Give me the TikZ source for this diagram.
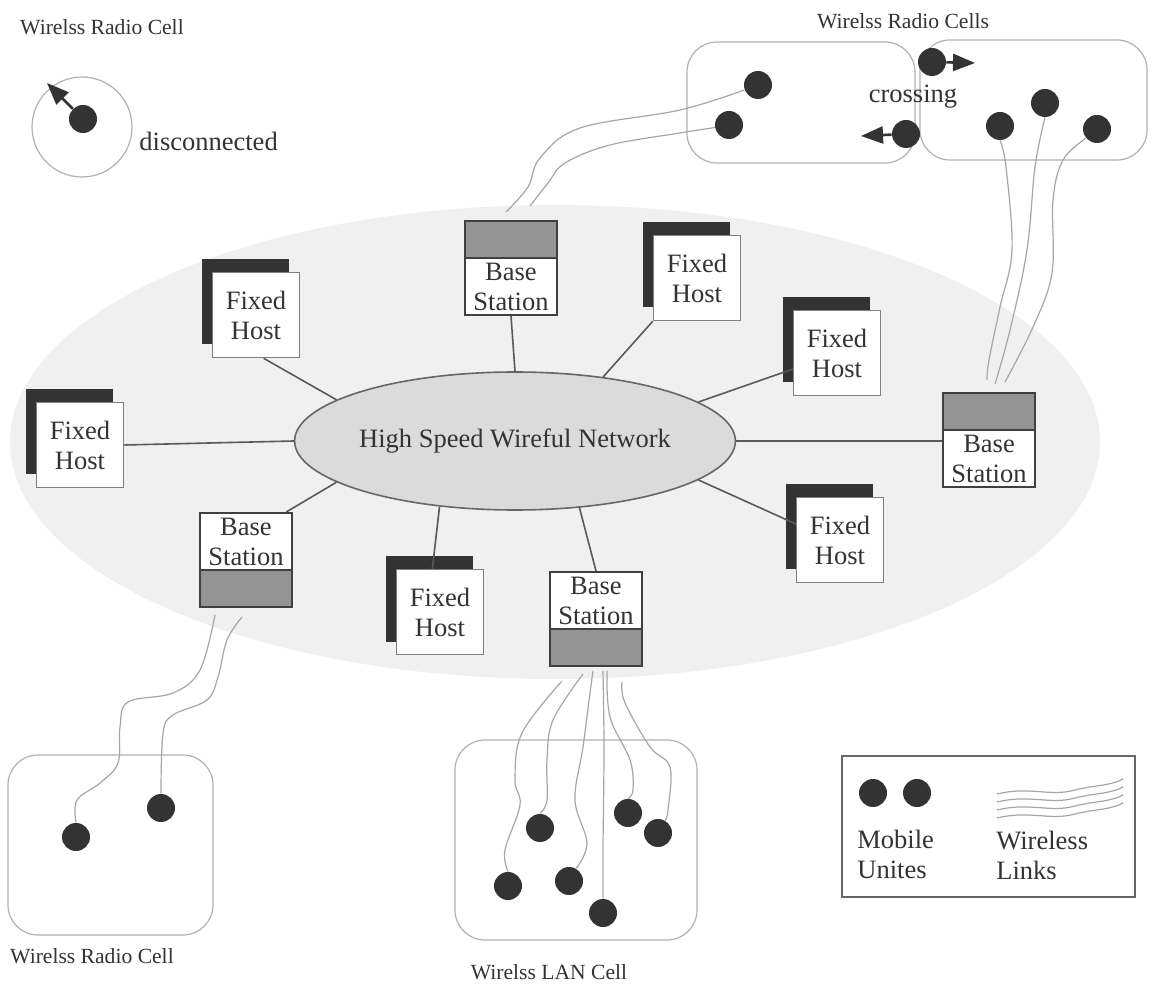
\documentclass[tikz,border=0pt]{standalone}
\usepackage{fontspec}
\setmainfont{Liberation Serif}
\usetikzlibrary{shapes.geometric,shadows,arrows.meta}
\newcommand{\mainfs}{\fontsize{13.25}{15}\selectfont}
\newcommand{\smallfs}{\fontsize{10.8}{12}\selectfont}
\begin{document}
\begin{tikzpicture}[x=0.5pt,y=-0.5pt,
 txt/.style={font=\mainfs, text=black!80, inner sep=0pt, align=center},
 celllabel/.style={font=\smallfs, text=black!80, inner sep=0pt},
 fhbox/.style={draw=black!50, line width=0.8pt, fill=white, minimum width=43.5pt, minimum height=42.5pt, inner sep=0pt, align=center, font=\mainfs, text=black!80,
   drop shadow={shadow xshift=-5.5pt, shadow yshift=6.5pt, fill=black!80, opacity=1}},
 bsbox/.style={draw=black!75, line width=1pt, fill=white, minimum width=46pt, minimum height=47pt, inner sep=0pt},
 graytop/.style={path picture={
   \fill[black!42] (path picture bounding box.north west) rectangle ([yshift=-18.5pt]path picture bounding box.north east);
   \draw[black!75,line width=1pt] ([yshift=-18.5pt]path picture bounding box.north west) -- ([yshift=-18.5pt]path picture bounding box.north east);}},
 graybot/.style={path picture={
   \fill[black!42] (path picture bounding box.south west) rectangle ([yshift=18.5pt]path picture bounding box.south east);
   \draw[black!75,line width=1pt] ([yshift=18.5pt]path picture bounding box.south west) -- ([yshift=18.5pt]path picture bounding box.south east);}},
 mu/.style={circle, fill=black!80, minimum size=14pt, inner sep=0pt},
 wl/.style={draw=black!35, line width=0.6pt},
 conn/.style={draw=black!65, line width=0.8pt},
 cell/.style={draw=black!30, line width=0.6pt, rounded corners=15pt, inner sep=0pt},
 move/.style={draw=black!80, line width=1.3pt, -{Triangle[length=11pt,width=8.5pt]}}
]
\useasboundingbox (0,0) rectangle (1152,994);
\fill[white] (0,0) rectangle (1152,994);

% stippled region
\fill[black!6] (555,442) ellipse [x radius=272.5pt, y radius=118.5pt];

% cells
\node[draw=black!30, line width=0.6pt, circle, minimum width=48pt, minimum height=50pt, inner sep=0pt] (cell0) at (82,127) {};
\node[cell, minimum width=114pt, minimum height=60.5pt] (cellA) at (801,102.5) {};
\node[cell, minimum width=113.5pt, minimum height=60pt] (cellB) at (1033.5,100) {};
\node[cell, minimum width=102.5pt, minimum height=90pt] (cellC) at (110.5,845) {};
\node[cell, minimum width=121pt, minimum height=100pt] (cellD) at (576,840) {};
\node[draw=black!60, line width=0.8pt, minimum width=146.5pt, minimum height=70.5pt, inner sep=0pt] (legend) at (988.5,826.5) {};

% central network
\node[ellipse, draw=black!60, line width=0.8pt, fill=black!14, minimum width=193pt, minimum height=69pt, inner sep=0pt, font=\mainfs, text=black!80] (net) at (515,441) {High Speed Wireful Network};

% fixed hosts
\node[fhbox] (fh1) at (256,315) {Fixed\\Host};
\node[fhbox] (fh2) at (80,445) {Fixed\\Host};
\node[fhbox] (fh3) at (697,278) {Fixed\\Host};
\node[fhbox] (fh4) at (837,353) {Fixed\\Host};
\node[fhbox] (fh5) at (840,540) {Fixed\\Host};
\node[fhbox] (fh6) at (440,612) {Fixed\\Host};

% base stations
\node[bsbox, graytop] (bst) at (511,268) {};
\node[txt] (bstl) at ([yshift=-9.25pt]bst.center) {Base\\Station};
\node[bsbox, graytop] (bsr) at (989,440) {};
\node[txt] (bsrl) at ([yshift=-9.25pt]bsr.center) {Base\\Station};
\node[bsbox, graybot] (bsl) at (246,560) {};
\node[txt] (bsll) at ([yshift=9.25pt]bsl.center) {Base\\Station};
\node[bsbox, graybot] (bsc) at (596,619) {};
\node[txt] (bscl) at ([yshift=9.25pt]bsc.center) {Base\\Station};

% mobile units
\node[mu] (u0) at (83,119) {};
\node[mu] (a) at (758,85) {};
\node[mu] (b) at (729,125) {};
\node[mu] (c) at (932,62) {};
\node[mu] (d) at (906,134) {};
\node[mu] (e) at (1000,126) {};
\node[mu] (f) at (1045,103) {};
\node[mu] (g) at (1097,129) {};
\node[mu] (h) at (76,837) {};
\node[mu] (i) at (161,808) {};
\node[mu] (j) at (540,828) {};
\node[mu] (k) at (508,886) {};
\node[mu] (l) at (569,881) {};
\node[mu] (m) at (603,913) {};
\node[mu] (n) at (628,813) {};
\node[mu] (o) at (658,833) {};
\node[mu] (lm1) at (873,793) {};
\node[mu] (lm2) at (917,793) {};

% wired lines
\draw[conn] (fh1.-80) -- (net.167);
\draw[conn] (fh2.east) -- (net.180);
\draw[conn] (bsl.50) -- (net.193);
\draw[conn] (net.221) -- (fh6.100);
\draw[conn] (net.314) -- (bsc.north);
\draw[conn] (net.348) -- (fh5.160);
\draw[conn] (net.east) -- (bsr.west |- net.east);
\draw[conn] (net.12) -- (fh4.200);
\draw[conn] (net.36) -- (fh3.south west);
\draw[conn] (bst.south) -- (net.north);

% wireless links
\draw[wl] plot[smooth, tension=0.6] coordinates {([xshift=-2.5pt,yshift=4pt]bst.north) (528,187) (540,158) (580,128) (680,110) (a.200)};
\draw[wl] plot[smooth, tension=0.6] coordinates {([xshift=9.5pt,yshift=7pt]bst.north) (548,183) (565,163) (610,145) (680,133) (b.190)};
\draw[wl] plot[smooth, tension=0.6] coordinates {(e.south) (1006,167) (1012,250) (1000,307) (989,360) ([xshift=-1pt,yshift=6pt]bsr.north)};
\draw[wl] plot[smooth, tension=0.6] coordinates {(f.south) (1035,167) (1027,250) (1010,330) ([xshift=3pt,yshift=4pt]bsr.north)};
\draw[wl] plot[smooth, tension=0.6] coordinates {(g.220) (1063,160) (1053,200) (1052,273) (1033,327) ([xshift=8pt,yshift=5pt]bsr.north)};
\draw[wl] plot[smooth, tension=0.6] coordinates {([xshift=-15.5pt,yshift=-3.5pt]bsl.south) (200,670) (173,693) (128,702) (120,727) (118,763) (100,783) (77,800) (h.north)};
\draw[wl] plot[smooth, tension=0.6] coordinates {([xshift=-2pt,yshift=-4.5pt]bsl.south) (227,640) (218,677) (207,700) (173,715) (163,733) (i.north)};
\draw[wl] plot[smooth, tension=0.6] coordinates {([xshift=-17pt,yshift=-7pt]bsc.south) (522,733) (515,780) (520,805) (505,850) (k.north)};
\draw[wl] plot[smooth, tension=0.6] coordinates {([xshift=-6.5pt,yshift=-3.5pt]bsc.south) (553,720) (547,760) (547,800) (j.north)};
\draw[wl] plot[smooth, tension=0.6] coordinates {([xshift=-1.5pt,yshift=-2pt]bsc.south) (590,693) (583,747) (575,800) (587,843) (l.60)};
\draw[wl] plot[smooth, tension=0.6] coordinates {([xshift=3.5pt,yshift=-2pt]bsc.south) (604,750) (603,850) (m.north)};
\draw[wl] plot[smooth, tension=0.6] coordinates {([xshift=5.5pt,yshift=-2pt]bsc.south) (610,717) (630,760) (633,790) (n.north)};
\draw[wl] plot[smooth, tension=0.6] coordinates {([xshift=13pt,yshift=-7.5pt]bsc.south) (625,703) (650,747) (670,767) (668,810) (o.60)};

% legend waves
\foreach \dy in {0,8,16,24}
  \draw[wl] (997,794+\dy) .. controls (1030,786+\dy) and (1050,797+\dy) .. (1075,790+\dy) .. controls (1095,785+\dy) and (1110,786+\dy) .. (1123,779+\dy);

% movement arrows
\coordinate (t0) at (47,83);
\coordinate (tc) at (975,63);
\coordinate (td) at (861,136);
\draw[move] (u0) -- (t0);
\draw[move] (c) -- (tc);
\draw[move] (d) -- (td);

% labels
\node[celllabel] (lab1) at (102,27) {Wirelss Radio Cell};
\node[txt, anchor=west] (lab2) at (139,141) {disconnected};
\node[celllabel] (lab3) at (903,21) {Wirelss Radio Cells};
\node[txt] (lab4) at (913,97) {crossing};
\node[celllabel] (lab5) at (92,956) {Wirelss Radio Cell};
\node[celllabel] (lab6) at (549,972) {Wirelss LAN Cell};
\node[txt, align=left, anchor=west] (lab7) at (857,854) {Mobile\\Unites};
\node[txt, align=left, anchor=west] (lab8) at (996,855) {Wireless\\Links};
\end{tikzpicture}
\end{document}
